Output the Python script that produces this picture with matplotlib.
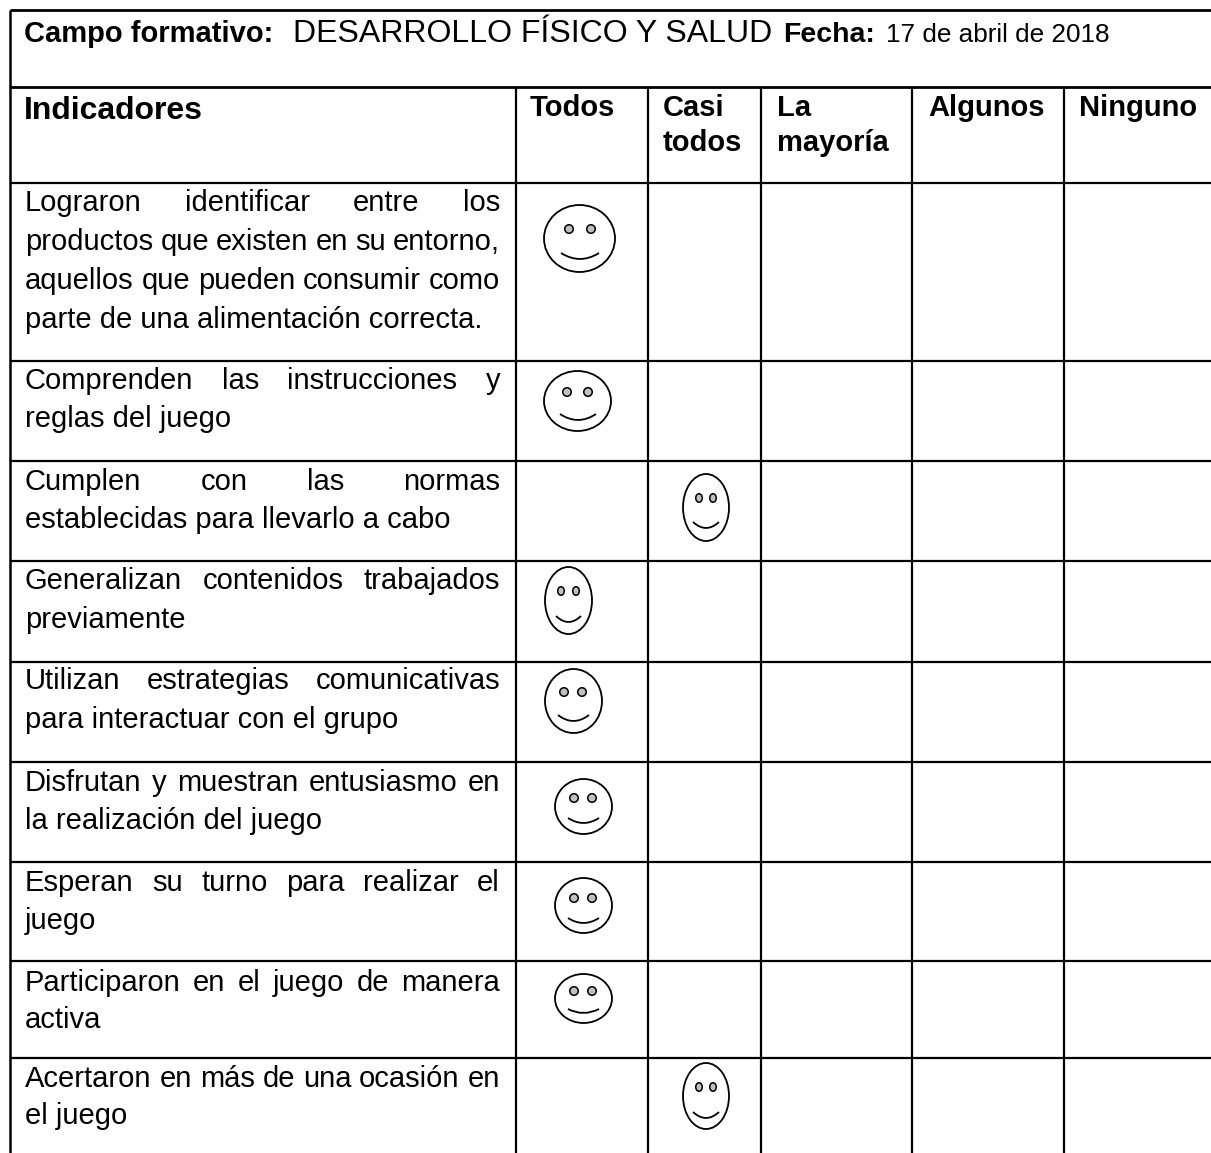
"""
tabla de indicadores con caritas
"""
import matplotlib
matplotlib.use('Agg')
from matplotlib import pyplot as plt
from matplotlib.patches import Ellipse, PathPatch
from matplotlib.path import Path

plt.rcParams['font.family'] = ['Liberation Sans', 'DejaVu Sans']

# contenido
indicators = [
    ['Lograron identificar entre los', 'productos que existen en su entorno,',
     'aquellos que pueden consumir como', 'parte de una alimentación correcta.'],
    ['Comprenden las instrucciones y', 'reglas del juego'],
    ['Cumplen con las normas', 'establecidas para llevarlo a cabo'],
    ['Generalizan contenidos trabajados', 'previamente'],
    ['Utilizan estrategias comunicativas', 'para interactuar con el grupo'],
    ['Disfrutan y muestran entusiasmo en', 'la realización del juego'],
    ['Esperan su turno para realizar el', 'juego'],
    ['Participaron en el juego de manera', 'activa'],
    ['Acertaron en más de una ocasión en', 'el juego'],
]
columns = [['Todos'], ['Casi', 'todos'], ['La', 'mayoría'], ['Algunos'], ['Ninguno']]
answers = ['Todos', 'Todos', 'Casi todos', 'Todos', 'Todos', 'Todos', 'Todos', 'Todos', 'Casi todos']

# geometria en pixeles
W, H = 1211, 1153
col_lines = [10, 516, 648, 761, 912, 1064]
row_lines = [183, 361, 461, 561, 662, 762, 862, 961, 1058]
baselines = [[211, 250, 289, 328], [389, 427], [490, 528], [589, 628], [689, 728],
             [791, 829], [891, 929], [991, 1028], [1087, 1124]]
head_x = [530, 663, 777, 928, 1079]
head_y = [116, 151]
# x0, x1, y0, y1, ojo1, ojo2, ojo_y, boca x0, x1, y0, y1
faces = [
    (544, 615, 205, 272, 569, 591, 229, 561, 599, 253, 259),
    (544, 611, 371, 431, 567, 588, 392, 560, 596, 414, 420),
    (683, 729, 474, 541, 699, 713, 498, 693, 719, 522, 528),
    (545, 592, 567, 634, 561, 576, 591, 556, 581, 616, 622),
    (545, 602, 669, 733, 564, 582, 692, 558, 589, 715, 721),
    (555, 612, 779, 834, 574, 592, 798, 568, 599, 818, 823),
    (555, 612, 878, 933, 574, 592, 898, 568, 599, 918, 923),
    (555, 612, 974, 1023, 574, 592, 991, 568, 599, 1009, 1013),
    (683, 729, 1063, 1129, 699, 713, 1087, 693, 719, 1112, 1118),
]

BODY = 21
fig = plt.figure(figsize=(W / 100, H / 100), dpi=100)
ax = fig.add_axes([0, 0, 1, 1])
ax.set_xlim(0, W)
ax.set_ylim(H, 0)
ax.axis('off')
renderer = fig.canvas.get_renderer()


def text_width(s, **kw):
    t = ax.text(0, 0, s, **kw)
    w = t.get_window_extent(renderer).width
    t.remove()
    return w


def draw_justified(words, x0, x1, y, size):
    widths = [text_width(w, fontsize=size) for w in words]
    gap = (x1 - x0 - sum(widths)) / (len(words) - 1)
    x = x0
    for w, width in zip(words, widths):
        ax.text(x, y, w, fontsize=size, va='baseline', ha='left', color='black')
        x += width + gap


# lineas de la tabla
ax.plot([col_lines[0], W], [10, 10], color='black', lw=2.0, solid_capstyle='butt')
ax.plot([col_lines[0], W], [87, 87], color='black', lw=2.0, solid_capstyle='butt')
for y in row_lines:
    ax.plot([col_lines[0], W], [y, y], color='black', lw=1.6, solid_capstyle='butt')
ax.plot([col_lines[0], col_lines[0]], [10, H], color='black', lw=1.8, solid_capstyle='butt')
for x in col_lines[1:]:
    ax.plot([x, x], [87, H], color='black', lw=1.6, solid_capstyle='butt')

# primera fila
ax.text(24, 42, 'Campo formativo:', fontsize=21, fontweight='bold', va='baseline')
ax.text(293, 42, 'DESARROLLO FÍSICO Y SALUD', fontsize=23, va='baseline')
ax.text(783, 42, 'Fecha:', fontsize=20.5, fontweight='bold', va='baseline')
ax.text(886, 42, '17 de abril de 2018', fontsize=18.8, va='baseline')

# encabezados
ax.text(24, 119, 'Indicadores', fontsize=23, fontweight='bold', va='baseline')
for x, lines in zip(head_x, columns):
    for y, line in zip(head_y, lines):
        ax.text(x, y, line, fontsize=21, fontweight='bold', va='baseline')

# indicadores
for lines, ys in zip(indicators, baselines):
    for i, (line, y) in enumerate(zip(lines, ys)):
        if i < len(lines) - 1:
            draw_justified(line.split(' '), 25, 500, y, BODY)
        else:
            ax.text(25, y, line, fontsize=BODY, va='baseline')

# caritas
for answer, (x0, x1, y0, y1, e1, e2, ey, mx0, mx1, my0, my1) in zip(answers, faces):
    ax.add_patch(Ellipse(((x0 + x1) / 2, (y0 + y1) / 2), x1 - x0, y1 - y0,
                         fc='white', ec='black', lw=1.3))
    eye_w = 6.5 if x1 - x0 < 50 else 8.5
    for ex in (e1, e2):
        ax.add_patch(Ellipse((ex, ey), eye_w, 8.5, fc='#c0c0c0', ec='black', lw=1.1))
    mid = (mx0 + mx1) / 2
    smile = Path([(mx0, my0), (mid, 2 * my1 - my0), (mx1, my0)],
                 [Path.MOVETO, Path.CURVE3, Path.CURVE3])
    ax.add_patch(PathPatch(smile, fc='none', ec='black', lw=1.3))

fig.savefig('out.png', dpi=100)
